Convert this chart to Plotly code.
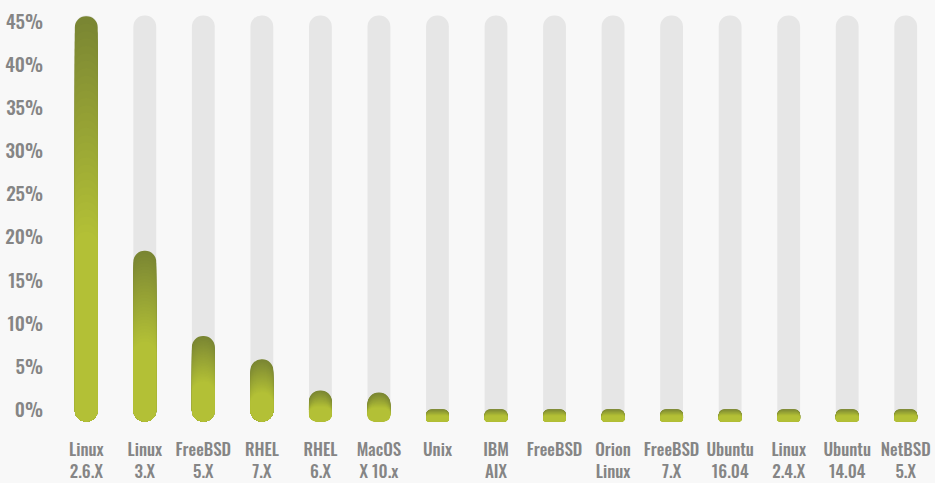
import plotly.graph_objects as go

categories = ["Linux<br>2.6.X", "Linux<br>3.X", "FreeBSD<br>5.X", "RHEL<br>7.X", "RHEL<br>6.X",
              "MacOS<br>X 10.x", "Unix", "IBM<br>AIX", "FreeBSD", "Orion<br>Linux",
              "FreeBSD<br>7.X", "Ubuntu<br>16.04", "Linux<br>2.4.X", "Ubuntu<br>14.04", "NetBSD<br>5.X"]
values = [45.7, 18.5, 8.6, 5.9, 2.3, 2.05, 0.12, 0.12, 0.12, 0.12, 0.12, 0.12, 0.12, 0.12, 0.12]
track_top = 45.8
capsule_bottom = -1.3
tick_values = [0, 5, 10, 15, 20, 25, 30, 35, 40, 45]
tick_text = ["0%", "5%", "10%", "15%", "20%", "25%", "30%", "35%", "40%", "45%"]

W, H = 935, 483
ML, MR, MT, MB = 57, 0, 12, 57
YR = [-1.6, 46.2]
px_per_unit = (H - MT - MB) / (YR[1] - YR[0])
cat_px = (W - ML - MR) / len(categories)
bar_w = 0.39
r_full = bar_w * cat_px / 2

dark = (0x7a, 0x86, 0x33)
bright = (0xb3, 0xc0, 0x36)
grey = "#e6e6e6"
N = 30

def mix(t):
    t = max(0.0, min(1.0, t))
    return "rgb(%d,%d,%d)" % tuple(round(dark[i] + (bright[i] - dark[i]) * t) for i in range(3))

fig = go.Figure()

def capsule(x, top, bottom, color):
    rr = min(r_full, (top - bottom) / 2 * px_per_unit)
    fig.add_trace(go.Bar(x=[x], y=[top - bottom], base=[bottom], width=[bar_w],
                         marker=dict(color=color, cornerradius=rr, line=dict(width=0)),
                         hoverinfo="skip", showlegend=False))

for c, v in zip(categories, values):
    capsule(c, track_top, capsule_bottom, grey)
    grad_len = 0.55 * (v - capsule_bottom)
    for j in range(N):
        capsule(c, v - j * grad_len / N, capsule_bottom, mix(j / (N - 1)))

font_family = "Oswald, Roboto Condensed, sans-serif"
fig.update_layout(
    width=W, height=H,
    margin=dict(l=ML, r=MR, t=MT, b=MB, pad=0),
    paper_bgcolor="#f8f8f8", plot_bgcolor="rgba(0,0,0,0)",
    barmode="overlay",
    showlegend=False,
    xaxis=dict(type="category", categoryorder="array", categoryarray=categories,
               range=[-0.5, len(categories) - 0.5], showgrid=False, zeroline=False,
               showline=False, ticks="", ticklabelstandoff=14, tickangle=0,
               tickfont=dict(family=font_family, size=17, color="#858585", weight=500)),
    yaxis=dict(range=YR, tickvals=tick_values, ticktext=tick_text, showgrid=False, zeroline=False,
               showline=False, ticks="", ticklabelstandoff=13,
               tickfont=dict(family=font_family, size=19, color="#858585", weight=500)),
)

fig.write_html("out.html")
